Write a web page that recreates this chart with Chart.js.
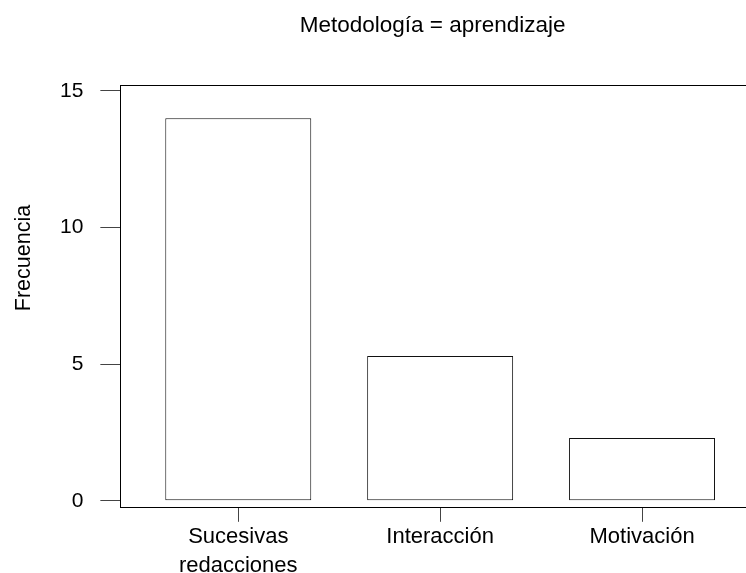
<!DOCTYPE html>
<html>
<head>
<meta charset="utf-8">
<script src="https://cdn.jsdelivr.net/npm/chart.js@4.4.1/dist/chart.umd.min.js"></script>
<style>
html, body { margin: 0; padding: 0; background: #fff; }
#wrap { width: 746px; height: 573px; }
</style>
</head>
<body>
<div id="wrap"><canvas id="barChart"></canvas></div>
<script>
// datos
const categorias = [["Sucesivas", "redacciones"], ["Interacción"], ["Motivación"]];
const frecuencias = [14, 5.3, 2.3];
const ticksY = [0, 5, 10, 15];
const titulo = "Metodología = aprendizaje";
const tituloY = "Frecuencia";

const fuente = "'Liberation Sans', Arial, sans-serif";

// etiqueta del eje Y (en el original no está centrada sobre el eje)
const etiquetaY = {
    id: "etiquetaY",
    afterDraw(chart) {
        const ctx = chart.ctx, area = chart.chartArea;
        ctx.save();
        ctx.translate(area.left - 96, area.top + 173);
        ctx.rotate(-Math.PI / 2);
        ctx.font = "21.5px " + fuente;
        ctx.fillStyle = "#000";
        ctx.textAlign = "center";
        ctx.textBaseline = "middle";
        ctx.fillText(tituloY, 0, 0);
        ctx.restore();
    }
};

const ctx = document.getElementById("barChart").getContext("2d");
new Chart(ctx, {
    type: "bar",
    data: {
        datasets: [{
            data: frecuencias.map(function(v, i) { return { x: i + 1, y: v }; }),
            backgroundColor: "#fff",
            borderColor: "#111",
            borderWidth: 1,
            borderSkipped: false,
            barPercentage: 0.723,
            categoryPercentage: 1,
            xAxisID: "x",
            yAxisID: "y"
        }]
    },
    options: {
        responsive: true,
        maintainAspectRatio: false,
        animation: false,
        layout: { padding: { left: 43, right: 1, top: 0, bottom: -8 } },
        plugins: {
            legend: { display: false },
            tooltip: { enabled: false },
            title: {
                display: true,
                text: titulo,
                fullSize: false,
                color: "#000",
                font: { family: fuente, size: 22.5, weight: "normal" },
                padding: { top: 12, bottom: 38 }
            }
        },
        scales: {
            x: {
                type: "linear",
                offset: false,
                min: 0.416,
                max: 3.51,
                afterBuildTicks: function(s) { s.ticks = categorias.map(function(c, i) { return { value: i + 1 }; }); },
                ticks: {
                    callback: function(v) { return categorias[v - 1]; },
                    color: "#000",
                    font: { family: fuente, size: 22, lineHeight: 1.3 },
                    padding: 1,
                    maxRotation: 0,
                    autoSkip: false
                },
                grid: { offset: false, drawOnChartArea: false, tickLength: 14, color: "#444" },
                border: { color: "#000", width: 1 }
            },
            x2: {
                type: "linear",
                position: "top",
                offset: false,
                min: 0,
                max: 1,
                ticks: { display: false },
                grid: { display: false },
                border: { display: true, color: "#000", width: 1 }
            },
            y: {
                min: -0.255,
                max: 15.219,
                afterBuildTicks: function(s) { s.ticks = ticksY.map(function(v) { return { value: v }; }); },
                ticks: {
                    color: "#000",
                    font: { family: fuente, size: 21 },
                    padding: 17
                },
                grid: { drawOnChartArea: false, tickLength: 20, color: "#444" },
                border: { color: "#000", width: 1 }
            }
        }
    },
    plugins: [etiquetaY]
});
</script>
</body>
</html>
